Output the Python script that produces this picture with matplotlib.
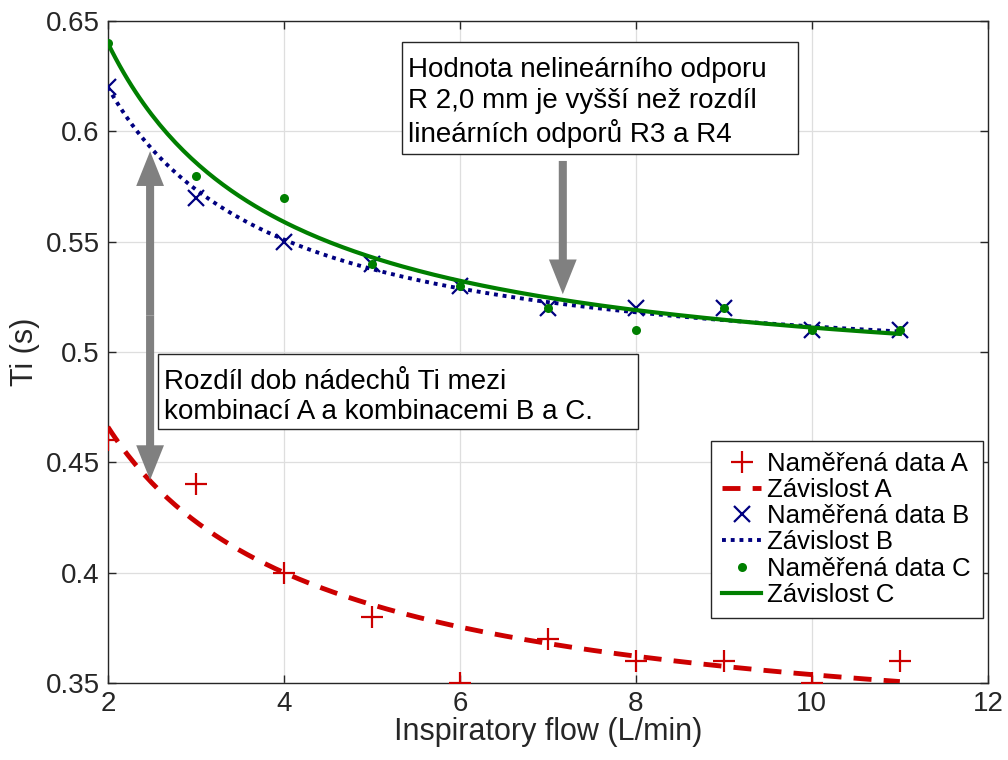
import numpy as np
import matplotlib.pyplot as plt
from matplotlib.lines import Line2D
from matplotlib.patches import Rectangle

plt.rcParams['font.family'] = ['Liberation Sans', 'DejaVu Sans']

# measured data
flow = [2, 3, 4, 5, 6, 7, 8, 9, 10, 11]
ti_a = [0.46, 0.44, 0.40, 0.38, 0.35, 0.37, 0.36, 0.36, 0.35, 0.36]
ti_b = [0.62, 0.57, 0.55, 0.54, 0.53, 0.52, 0.52, 0.52, 0.51, 0.51]
ti_c = [0.64, 0.58, 0.57, 0.54, 0.53, 0.52, 0.51, 0.52, 0.51, 0.51]

# fitted dependency  y = a * x^b + c  (parameters)
fit_a = [0.270, -0.80, 0.311]
fit_b = [0.2766, -1.065, 0.4878]
fit_c = [0.324, -1.018, 0.480]

note_top = "Hodnota nelineárního odporu\nR 2,0 mm je vyšší než rozdíl\nlineárních odporů R3 a R4"
note_left = "Rozdíl dob nádechů Ti mezi\nkombinací A a kombinacemi B a C."

RED = '#cc0000'
NAVY = '#000080'
GREEN = '#007f00'
GRAY = '#808080'
AX = '#262626'

fig = plt.figure(figsize=(10.08, 7.6), dpi=100)
ax = fig.add_axes([0.107, 0.1013, 0.873, 0.871])

xs = np.linspace(min(flow), max(flow), 200)
def model(p, x):
    return p[0] * x ** p[1] + p[2]

ax.plot(flow, ti_a, '+', color=RED, ms=16, mew=1.6, zorder=3)
ax.plot(xs, model(fit_a, xs), color=RED, lw=3.5, dashes=(3.7, 2.5), zorder=3)
ax.plot(flow, ti_b, 'x', color=NAVY, ms=11, mew=1.6, zorder=3)
ax.plot(xs, model(fit_b, xs), color=NAVY, lw=2.8, dashes=(1, 1.25), zorder=3)
ax.plot(flow, ti_c, 'o', color=GREEN, ms=6.5, mew=0, zorder=4)
ax.plot(xs, model(fit_c, xs), color=GREEN, lw=3, zorder=3)

ax.set_xlim(2, 12)
ax.set_ylim(0.35, 0.65)
ax.set_xticks([2, 4, 6, 8, 10, 12])
ax.set_yticks([0.35, 0.4, 0.45, 0.5, 0.55, 0.6, 0.65])
ax.set_yticklabels(['0.35', '0.4', '0.45', '0.5', '0.55', '0.6', '0.65'])
ax.grid(True, color='#dedede', lw=0.9)
ax.set_axisbelow(True)
ax.tick_params(direction='in', top=True, right=True, length=6, width=1,
               labelsize=20, colors=AX, pad=6)
for s in ax.spines.values():
    s.set_color(AX)
    s.set_linewidth(1)

ax.set_xlabel('Inspiratory flow (L/min)', fontsize=22, color=AX, labelpad=0)
ax.set_ylabel('Ti (s)', fontsize=22, color=AX, labelpad=4)

# gray arrows
arrow_kw = dict(arrowstyle='simple,head_length=2.5,head_width=2.0,tail_width=0.58',
                color=GRAY, lw=0, mutation_scale=10, shrinkA=0, shrinkB=0)
mid = (0.591 + 0.442) / 2
ax.annotate('', xy=(2.48, 0.591), xytext=(2.48, mid), arrowprops=arrow_kw, zorder=5)
ax.annotate('', xy=(2.48, 0.442), xytext=(2.48, mid), arrowprops=arrow_kw, zorder=5)
ax.annotate('', xy=(7.17, 0.5262), xytext=(7.17, 0.5866), arrowprops=arrow_kw, zorder=5)

# text boxes
ax.add_patch(Rectangle((5.341, 0.5896), 4.5, 0.0509, fc='white', ec=AX, lw=1, zorder=6))
ax.text(5.41, 0.6339, note_top, fontsize=20, va='top', ha='left',
        linespacing=1.25, zorder=7)
ax.add_patch(Rectangle((2.568, 0.4652), 5.455, 0.0341, fc='white', ec=AX, lw=1, zorder=6))
ax.text(2.64, 0.4925, note_left, fontsize=20, va='top', ha='left',
        linespacing=1.2, zorder=7)

handles = [
    Line2D([], [], ls='none', marker='+', color=RED, ms=16, mew=1.6),
    Line2D([], [], color=RED, lw=3.5, dashes=(3.7, 2.5)),
    Line2D([], [], ls='none', marker='x', color=NAVY, ms=11, mew=1.6),
    Line2D([], [], color=NAVY, lw=2.8, dashes=(1, 1.25)),
    Line2D([], [], ls='none', marker='o', color=GREEN, ms=6.5, mew=0),
    Line2D([], [], color=GREEN, lw=3),
]
labels = ['Naměřená data A', 'Závislost A', 'Naměřená data B',
          'Závislost B', 'Naměřená data C', 'Závislost C']
leg = ax.legend(handles, labels, loc='lower right', bbox_to_anchor=(0.994, 0.098),
                fontsize=18.5, fancybox=False, framealpha=1, edgecolor=AX,
                handlelength=1.5, handletextpad=0.25, labelspacing=0.08,
                borderpad=0.45, borderaxespad=0)
leg.get_frame().set_linewidth(1)
leg.set_zorder(7)

fig.savefig('out.png', dpi=100)
